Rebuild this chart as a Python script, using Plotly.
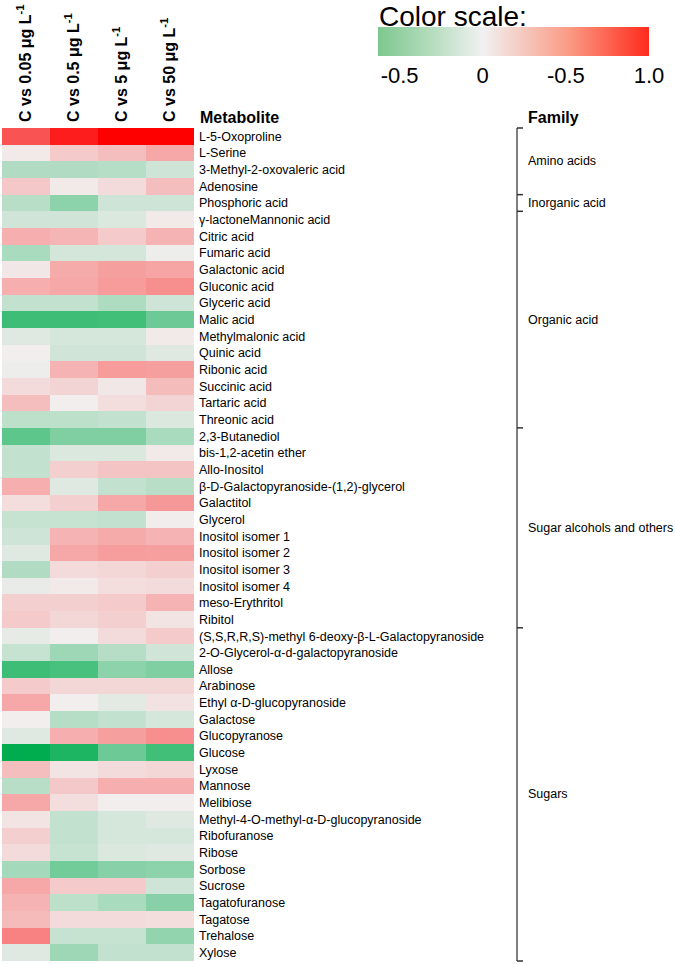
import plotly.graph_objects as go

W, H = 675, 964

conc_labels = [
    "<b>C vs 0.05 μg L<sup>-1</sup></b>",
    "<b>C vs 0.5 μg L<sup>-1</sup></b>",
    "<b>C vs 5 μg L<sup>-1</sup></b>",
    "<b>C vs 50 μg L<sup>-1</sup></b>",
]

metabolites = [
    "L-5-Oxoproline", "L-Serine", "3-Methyl-2-oxovaleric acid", "Adenosine",
    "Phosphoric acid", "γ-lactoneMannonic acid", "Citric acid", "Fumaric acid",
    "Galactonic acid", "Gluconic acid", "Glyceric acid", "Malic acid",
    "Methylmalonic acid", "Quinic acid", "Ribonic acid", "Succinic acid",
    "Tartaric acid", "Threonic acid", "2,3-Butanediol", "bis-1,2-acetin ether",
    "Allo-Inositol", "β-D-Galactopyranoside-(1,2)-glycerol", "Galactitol", "Glycerol",
    "Inositol isomer 1", "Inositol isomer 2", "Inositol isomer 3", "Inositol isomer 4",
    "meso-Erythritol", "Ribitol", "(S,S,R,R,S)-methyl 6-deoxy-β-L-Galactopyranoside",
    "2-O-Glycerol-α-d-galactopyranoside", "Allose", "Arabinose",
    "Ethyl α-D-glucopyranoside", "Galactose", "Glucopyranose", "Glucose", "Lyxose",
    "Mannose", "Melibiose", "Methyl-4-O-methyl-α-D-glucopyranoside", "Ribofuranose",
    "Ribose", "Sorbose", "Sucrose", "Tagatofuranose", "Tagatose", "Trehalose", "Xylose",
]

v_005 = [0.65, 0.02, -0.27, 0.16, -0.24, -0.14, 0.27, -0.30, 0.03, 0.27,
         -0.20, -0.75, -0.08, 0.00, -0.02, 0.08, 0.20, -0.22, -0.62, -0.20,
         -0.20, 0.27, 0.07, -0.18, -0.15, -0.08, -0.27, -0.04, 0.13, 0.15,
         -0.05, -0.18, -0.75, 0.15, 0.30, 0.00, -0.08, -1.00, 0.20, -0.24,
         0.30, 0.04, 0.13, 0.08, -0.32, 0.30, 0.25, 0.22, 0.46, -0.08]
v_05 = [0.88, 0.15, -0.27, 0.02, -0.42, -0.14, 0.24, -0.13, 0.28, 0.30,
        -0.20, -0.75, -0.12, -0.14, 0.25, 0.11, 0.00, -0.22, -0.47, -0.10,
        0.13, -0.08, 0.13, -0.18, 0.25, 0.30, 0.08, 0.02, 0.13, 0.10,
        0.00, -0.35, -0.70, 0.10, 0.00, -0.25, 0.27, -0.88, 0.04, 0.16,
        0.07, -0.20, -0.20, -0.18, -0.53, 0.15, -0.22, 0.08, -0.18, -0.35]
v_5 = [1.00, 0.20, -0.25, 0.08, -0.15, -0.10, 0.15, -0.13, 0.33, 0.35,
       -0.28, -0.73, -0.12, -0.14, 0.35, 0.03, 0.07, -0.20, -0.47, -0.10,
       0.18, -0.20, 0.30, -0.20, 0.28, 0.34, 0.10, 0.07, 0.15, 0.13,
       0.08, -0.25, -0.42, 0.10, -0.06, -0.20, 0.33, -0.55, 0.08, 0.27,
       0.00, -0.12, -0.12, -0.10, -0.44, 0.15, -0.30, 0.08, -0.18, -0.20]
v_50 = [1.00, 0.30, -0.15, 0.20, -0.15, 0.02, 0.25, -0.02, 0.31, 0.40,
        -0.15, -0.55, 0.02, -0.08, 0.33, 0.21, 0.11, -0.10, -0.30, 0.02,
        0.18, -0.24, 0.36, -0.01, 0.25, 0.33, 0.13, 0.08, 0.25, 0.04,
        0.15, -0.14, -0.47, 0.10, 0.05, -0.12, 0.40, -0.73, 0.10, 0.27,
        0.00, -0.08, -0.12, -0.08, -0.42, -0.15, -0.44, 0.07, -0.40, -0.20]

families = ["Amino acids", "Inorganic acid", "Organic acid",
            "Sugar alcohols and others", "Sugars"]
family_counts = [4, 1, 13, 12, 20]

cb_ticks = [-0.5, 0, 0.5, 1.0]
cb_ticktext = ["-0.5", "0", "-0.5", "1.0"]

FONT = "Liberation Sans, Arial, sans-serif"

def px_x(x):
    return x / W

def px_y(y):
    return 1 - y / H

z = [list(r) for r in zip(v_005, v_05, v_5, v_50)]

heat_scale = [[0.0, "#00ad4e"], [0.5, "#f2eeee"], [1.0, "#ff0000"]]

fig = go.Figure()
fig.add_trace(go.Heatmap(
    z=z, x=conc_labels, y=metabolites,
    colorscale=heat_scale, zmin=-1, zmax=1, showscale=False,
    xgap=0, ygap=0, hoverongaps=False,
))

# colour-scale bar (dummy trace only carrying the colorbar)
fig.add_trace(go.Scatter(
    x=[None], y=[None], mode="markers", showlegend=False,
    marker=dict(
        color=[0], cmin=-0.63, cmax=1.0, showscale=True,
        colorscale=[[0.0, "#7dc78e"], [0.2, "#b6ddbf"], [0.387, "#f1f1f1"],
                    [0.7, "#fa9c86"], [1.0, "#ff2b1c"]],
        colorbar=dict(
            orientation="h", x=px_x(378), xanchor="left",
            len=(649 - 378) / W, lenmode="fraction",
            y=px_y(27), yanchor="top", thickness=29, thicknessmode="pixels",
            outlinewidth=0, ticks="", ticklen=0, tickvals=cb_ticks,
            ticktext=cb_ticktext,
            tickfont=dict(size=22, color="black", family=FONT),
            xpad=0, ypad=0,
        ),
    ),
))

shapes = []
xl = px_x(517)
shapes.append(dict(type="line", xref="paper", yref="y", x0=xl, x1=xl,
                   y0=-0.5, y1=len(metabolites) - 0.5,
                   line=dict(color="#808080", width=2)))
annotations = []
start = -0.5
bounds = [start]
for fam, n in zip(families, family_counts):
    end = start + n
    bounds.append(end)
    annotations.append(dict(x=px_x(526), xref="paper", y=(start + end) / 2, yref="y",
                            text=fam, showarrow=False, xanchor="left", yanchor="middle",
                            font=dict(size=12.5, color="black", family=FONT)))
    start = end
for b in bounds:
    shapes.append(dict(type="line", xref="paper", yref="y", x0=xl, x1=px_x(523),
                       y0=b, y1=b, line=dict(color="#333333", width=1.5)))

annotations.append(dict(x=px_x(198), xref="paper", y=px_y(117), yref="paper",
                        text="<b>Metabolite</b>", showarrow=False, xanchor="left",
                        yanchor="middle", font=dict(size=16, color="black", family=FONT)))
annotations.append(dict(x=px_x(526), xref="paper", y=px_y(117), yref="paper",
                        text="<b>Family</b>", showarrow=False, xanchor="left",
                        yanchor="middle", font=dict(size=16, color="black", family=FONT)))
annotations.append(dict(x=px_x(377), xref="paper", y=px_y(16), yref="paper",
                        text="Color scale:", showarrow=False, xanchor="left",
                        yanchor="middle", font=dict(size=28, color="black", family=FONT)))

fig.update_layout(
    width=W, height=H, margin=dict(l=0, r=0, t=0, b=0),
    paper_bgcolor="white", plot_bgcolor="white",
    font=dict(family=FONT, color="black"),
    xaxis=dict(domain=[px_x(2), px_x(194)], side="top", tickangle=-90,
               showgrid=False, zeroline=False, showline=False, ticks="",
               tickfont=dict(size=16, color="black", family=FONT),
               ticklabelstandoff=4, automargin=False, fixedrange=True),
    yaxis=dict(domain=[px_y(962), px_y(127)], side="right", autorange="reversed",
               type="category",
               showgrid=False, zeroline=False, showline=False, ticks="",
               tickfont=dict(size=12.5, color="black", family=FONT),
               ticklabelstandoff=4, automargin=False, fixedrange=True),
    shapes=shapes, annotations=annotations,
)

fig.write_html(
    "out.html",
    config={"displayModeBar": False},
    post_script="document.body.style.margin='0';document.body.style.overflow='hidden';",
)
